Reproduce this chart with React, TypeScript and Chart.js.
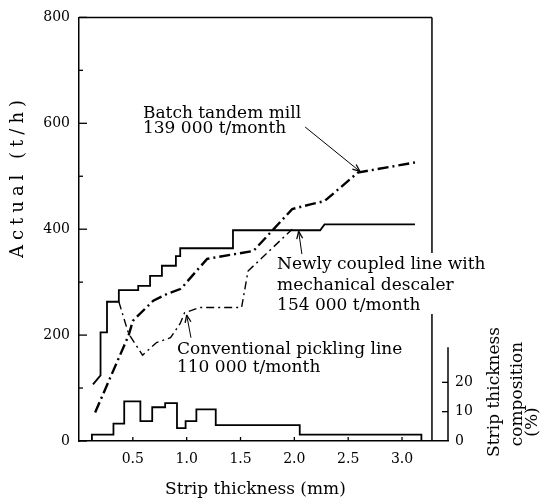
import React, { useEffect, useRef } from 'react';
import { Chart, registerables } from 'chart.js';
Chart.register(...registerables);

// ---- tick labels ----
const xTickValues = [0.5, 1.0, 1.5, 2.0, 2.5, 3.0];
const xTickLabels = ['0.5', '1.0', '1.5', '2.0', '2.5', '3.0'];
const yTickValues = [0, 200, 400, 600, 800];
const yMinorTicks = [100, 300, 500, 700];
const y2TickValues = [0, 10, 20];

// ---- Batch tandem mill (t/h vs mm) ----
const batchX = [0.15, 0.46, 0.50, 0.69, 0.82, 0.94, 0.97, 1.19, 1.62, 1.98, 2.15, 2.28, 2.59, 3.12];
const batchY = [54, 199, 227, 265, 278, 287, 293, 344, 359, 438, 447, 453, 507, 526];

// ---- Newly coupled line with mechanical descaler ----
const newlyX = [0.13, 0.20, 0.20, 0.26, 0.26, 0.37, 0.37, 0.55, 0.55, 0.66, 0.66, 0.77, 0.77, 0.90, 0.90, 0.94, 0.94, 1.43, 1.43, 2.24, 2.28, 3.12];
const newlyY = [107, 124, 205, 205, 263, 263, 285, 285, 293, 293, 312, 312, 331, 331, 349, 349, 364, 364, 398, 398, 409, 409];

// ---- Conventional pickling line ----
const convX = [0.37, 0.46, 0.59, 0.72, 0.85, 0.94, 0.98, 1.12, 1.51, 1.57, 1.98];
const convY = [263, 203, 162, 186, 195, 222, 242, 252, 252, 321, 400];

// ---- Strip thickness composition (%) histogram ----
const histEdges = [0, 0.12, 0.32, 0.42, 0.57, 0.68, 0.80, 0.91, 0.99, 1.09, 1.27, 2.05, 3.18, 3.427];
const histPct = [0, 2.2, 5.9, 13.5, 6.8, 11.5, 12.9, 4.4, 6.8, 10.8, 5.4, 2.2, 0];

const FONT = 'DejaVu Serif';

export default function App() {
  const ref = useRef<HTMLCanvasElement | null>(null);

  useEffect(() => {
    const canvas = ref.current;
    if (!canvas) return;
    const pts = (xs: number[], ys: number[]) => xs.map((x, i) => ({ x, y: ys[i] }));
    const histPts: { x: number; y: number }[] = [];
    histPct.forEach((p, i) => {
      histPts.push({ x: histEdges[i], y: p });
      histPts.push({ x: histEdges[i + 1], y: p });
    });

    const frameRight = 3.278;

    const overlay = {
      id: 'overlay',
      afterDraw(chart: any) {
        const ctx = chart.ctx as CanvasRenderingContext2D;
        const xs = chart.scales.x, ys = chart.scales.y, y2 = chart.scales.y2;
        const X = (v: number) => xs.getPixelForValue(v);
        const Y = (v: number) => ys.getPixelForValue(v);
        const Y2 = (v: number) => y2.getPixelForValue(v);
        const ca = chart.chartArea;
        const line = (x1: number, y1: number, x2: number, y2p: number) => {
          ctx.beginPath(); ctx.moveTo(x1, y1); ctx.lineTo(x2, y2p); ctx.stroke();
        };
        ctx.save();
        ctx.strokeStyle = '#000';
        ctx.lineWidth = 1.5;
        ctx.setLineDash([]);
        // frame
        line(X(0), Y(800), X(frameRight), Y(800));
        line(X(frameRight), Y(800), X(frameRight), Y(355));
        line(X(frameRight), Y(240), X(frameRight), Y(0));
        // secondary axis
        line(ca.right, Y2(0), ca.right, Y2(32));
        // inward ticks
        ctx.lineWidth = 1.3;
        yTickValues.forEach(v => line(ca.left, Y(v), ca.left + 8, Y(v)));
        yMinorTicks.forEach(v => line(ca.left, Y(v), ca.left + 4, Y(v)));
        xTickValues.forEach(v => line(X(v), ca.bottom, X(v), ca.bottom - 4));
        y2TickValues.slice(1).forEach(v => line(ca.right, Y2(v), ca.right - 6, Y2(v)));

        // arrows
        const arrow = (fx: number, fy: number, tx: number, ty: number) => {
          const x1 = X(fx), y1 = Y(fy), x2 = X(tx), y2p = Y(ty);
          ctx.lineWidth = 1;
          line(x1, y1, x2, y2p);
          const a = Math.atan2(y2p - y1, x2 - x1);
          const L = 8, w = 0.38;
          ctx.lineWidth = 1.3;
          line(x2, y2p, x2 - L * Math.cos(a - w), y2p - L * Math.sin(a - w));
          line(x2, y2p, x2 - L * Math.cos(a + w), y2p - L * Math.sin(a + w));
        };
        arrow(2.10, 593, 2.61, 509);
        arrow(2.07, 353, 2.04, 396);
        arrow(1.04, 195, 1.00, 238);

        // annotation texts
        ctx.fillStyle = '#000';
        ctx.font = `17px "${FONT}"`;
        ctx.textAlign = 'left';
        ctx.textBaseline = 'alphabetic';
        const txt = (s: string, mx: number, vy: number) => ctx.fillText(s, X(mx), Y(vy));
        txt('Batch tandem mill', 0.594, 610);
        txt('139 000 t/month', 0.594, 582);
        txt('Newly coupled line with', 1.84, 325);
        txt('mechanical descaler', 1.84, 285);
        txt('154 000 t/month', 1.84, 248);
        txt('Conventional pickling line', 0.91, 165);
        txt('110 000 t/month', 0.91, 130);

        // axis titles
        ctx.textAlign = 'center';
        ctx.textBaseline = 'middle';
        ctx.fillText('Strip thickness (mm)', (X(0) + X(frameRight)) / 2, 490);
        const vtext = (s: string, cx: number, cy: number, spacing = 0) => {
          ctx.save();
          ctx.translate(cx, cy); ctx.rotate(-Math.PI / 2);
          (ctx as any).letterSpacing = spacing + 'px';
          ctx.fillText(s, spacing / 2, 0);
          ctx.restore();
        };
        vtext('Strip thickness', 495, 392);
        vtext('composition', 518, 394);
        vtext('(%)', 533, 422);
        ctx.font = `18px "${FONT}"`;
        vtext('Actual (t/h)', 18, 179, 5);
        ctx.restore();
      },
    };

    const chart = new Chart(canvas, {
      type: 'scatter',
      data: {
        datasets: [
          { data: histPts, yAxisID: 'y2', showLine: true, borderColor: '#000', borderWidth: 1.8, pointRadius: 0, fill: false },
          { data: pts(newlyX, newlyY), yAxisID: 'y', showLine: true, borderColor: '#000', borderWidth: 1.8, pointRadius: 0, fill: false },
          { data: pts(batchX, batchY), yAxisID: 'y', showLine: true, borderColor: '#000', borderWidth: 2.4, borderDash: [11, 4, 2, 4], pointRadius: 0, fill: false },
          { data: pts(convX, convY), yAxisID: 'y', showLine: true, borderColor: '#000', borderWidth: 1.4, borderDash: [8, 4, 2, 4], pointRadius: 0, fill: false },
        ],
      },
      options: {
        responsive: false,
        animation: false,
        layout: { padding: { top: 15, left: 0, right: 0, bottom: 0 } },
        plugins: { legend: { display: false }, tooltip: { enabled: false } },
        scales: {
          x: {
            type: 'linear', min: 0, max: 3.427,
            grid: { display: false, drawTicks: false },
            border: { display: true, color: '#000', width: 1.5 },
            ticks: {
              color: '#000', font: { family: FONT, size: 14 }, padding: 10, maxRotation: 0, autoSkip: false,
              callback: (v: any) => { const i = xTickValues.findIndex(t => Math.abs(t - v) < 1e-6); return i >= 0 ? xTickLabels[i] : ''; },
            },
            afterBuildTicks: (s: any) => { s.ticks = xTickValues.map(v => ({ value: v })); },
            afterFit: (s: any) => { s.height = 59; },
          },
          y: {
            type: 'linear', position: 'left', min: 0, max: 800,
            grid: { display: false, drawTicks: false },
            border: { display: true, color: '#000', width: 1.5 },
            ticks: { color: '#000', font: { family: FONT, size: 14 }, padding: 9 },
            afterBuildTicks: (s: any) => { s.ticks = yTickValues.map(v => ({ value: v })); },
            afterFit: (s: any) => { s.width = 79; },
          },
          y2: {
            type: 'linear', position: 'right', min: 0, max: 144.4,
            grid: { display: false, drawTicks: false },
            border: { display: false },
            ticks: { color: '#000', font: { family: FONT, size: 14 }, padding: 7 },
            afterBuildTicks: (s: any) => { s.ticks = y2TickValues.map(v => ({ value: v })); },
            afterFit: (s: any) => { s.width = 94; },
          },
        },
      },
      plugins: [overlay],
    } as any);
    return () => chart.destroy();
  }, []);

  return (
    <div style={{ position: 'absolute', left: 0, top: 0, width: 542, height: 500, background: '#fff' }}>
      <canvas ref={ref} width={542} height={500} style={{ display: 'block' }} />
    </div>
  );
}
